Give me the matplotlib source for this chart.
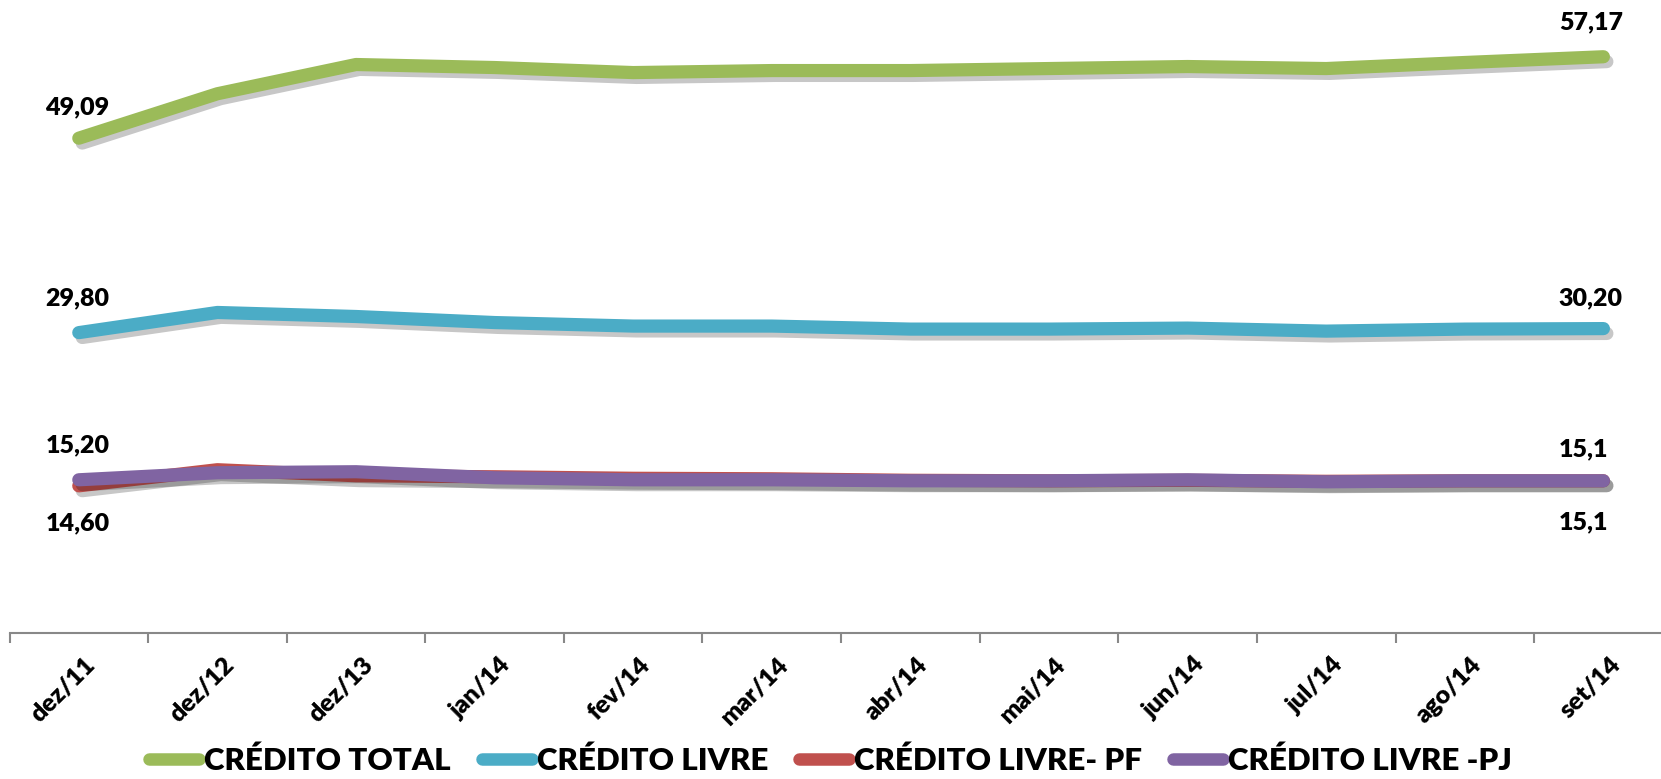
import matplotlib
matplotlib.use("Agg")
import matplotlib.pyplot as plt
import matplotlib.patheffects as pe
import matplotlib.transforms as mtransforms
from matplotlib.lines import Line2D

plt.rcParams['font.family'] = ['Lato', 'DejaVu Sans']

categories = ["dez/11", "dez/12", "dez/13", "jan/14", "fev/14", "mar/14",
              "abr/14", "mai/14", "jun/14", "jul/14", "ago/14", "set/14"]
credito_total = [49.09, 53.5, 56.4, 56.1, 55.6, 55.8, 55.8, 56.0, 56.2, 56.0, 56.6, 57.17]
credito_livre = [29.80, 31.8, 31.4, 30.8, 30.45, 30.45, 30.15, 30.15, 30.25, 29.95, 30.15, 30.20]
credito_pf = [14.60, 16.2, 15.6, 15.5, 15.35, 15.3, 15.15, 15.1, 15.15, 15.05, 15.1, 15.1]
credito_pj = [15.20, 15.9, 16.0, 15.4, 15.2, 15.2, 15.1, 15.1, 15.2, 15.0, 15.1, 15.1]

series = [
    ("CRÉDITO TOTAL", credito_total, "#9BBB59"),
    ("CRÉDITO LIVRE", credito_livre, "#4BACC6"),
    ("CRÉDITO LIVRE- PF", credito_pf, "#C0504D"),
    ("CRÉDITO LIVRE -PJ", credito_pj, "#8064A2"),
]

W, H = 1661, 779
fig = plt.figure(figsize=(W / 100, H / 100), dpi=100)
ax = fig.add_axes([9.5 / W, (H - 633) / H, 1663.2 / W, 633 / H])

x = list(range(len(categories)))
lw = 9.5
shadow = [pe.SimpleLineShadow(offset=(2.5, -3.5), shadow_color="black", alpha=0.22), pe.Normal()]
for name, vals, col in series:
    ax.plot(x, vals, color=col, lw=lw, solid_capstyle="round", solid_joinstyle="round",
            path_effects=shadow, label=name, clip_on=False)

ax.set_xlim(-0.5, len(categories) - 0.5)
ax.set_ylim(0, 62.8)
ax.set_yticks([])
for s in ["left", "right", "top"]:
    ax.spines[s].set_visible(False)
ax.spines["bottom"].set_color("#888888")
ax.spines["bottom"].set_linewidth(1.5)

ax.set_xticks([i - 0.5 for i in range(len(categories) + 1)], minor=True)
ax.tick_params(axis="x", which="minor", length=7, width=1.5, color="#888888")
ax.set_xticks(x)
ax.set_xticklabels(categories, rotation=45, ha="right", va="center",
                   rotation_mode="anchor", fontsize=18, fontweight="heavy")
ax.tick_params(axis="x", which="major", length=0, pad=20)
offset = mtransforms.ScaledTranslation(13 / 100, 0, fig.dpi_scale_trans)
for lab in ax.get_xticklabels():
    lab.set_transform(lab.get_transform() + offset)

lab_kw = dict(fontsize=18, fontweight="heavy", ha="center", va="center", textcoords="offset points")
ax.annotate("49,09", (0, credito_total[0]), xytext=(-1, 22), **lab_kw)
ax.annotate("57,17", (11, credito_total[-1]), xytext=(-9, 25), **lab_kw)
ax.annotate("29,80", (0, credito_livre[0]), xytext=(-1, 25), **lab_kw)
ax.annotate("30,20", (11, credito_livre[-1]), xytext=(-9, 22), **lab_kw)
ax.annotate("15,20", (0, credito_pj[0]), xytext=(-1, 25), **lab_kw)
ax.annotate("14,60", (0, credito_pf[0]), xytext=(-1, -27), **lab_kw)
ax.annotate("15,1", (11, credito_pj[-1]), xytext=(-14, 23), **lab_kw)
ax.annotate("15,1", (11, credito_pf[-1]), xytext=(-14, -30), **lab_kw)

handles = [Line2D([0], [0], color=c, lw=9, solid_capstyle="round") for _, _, c in series]
fig.legend(handles, [n for n, _, _ in series], loc="center", bbox_to_anchor=(0.5, 18 / H),
           ncol=4, frameon=False, handlelength=1.6, handletextpad=0.15, columnspacing=1.0,
           prop={"size": 22.5, "weight": "heavy"})

fig.savefig("out.png", dpi=100)
